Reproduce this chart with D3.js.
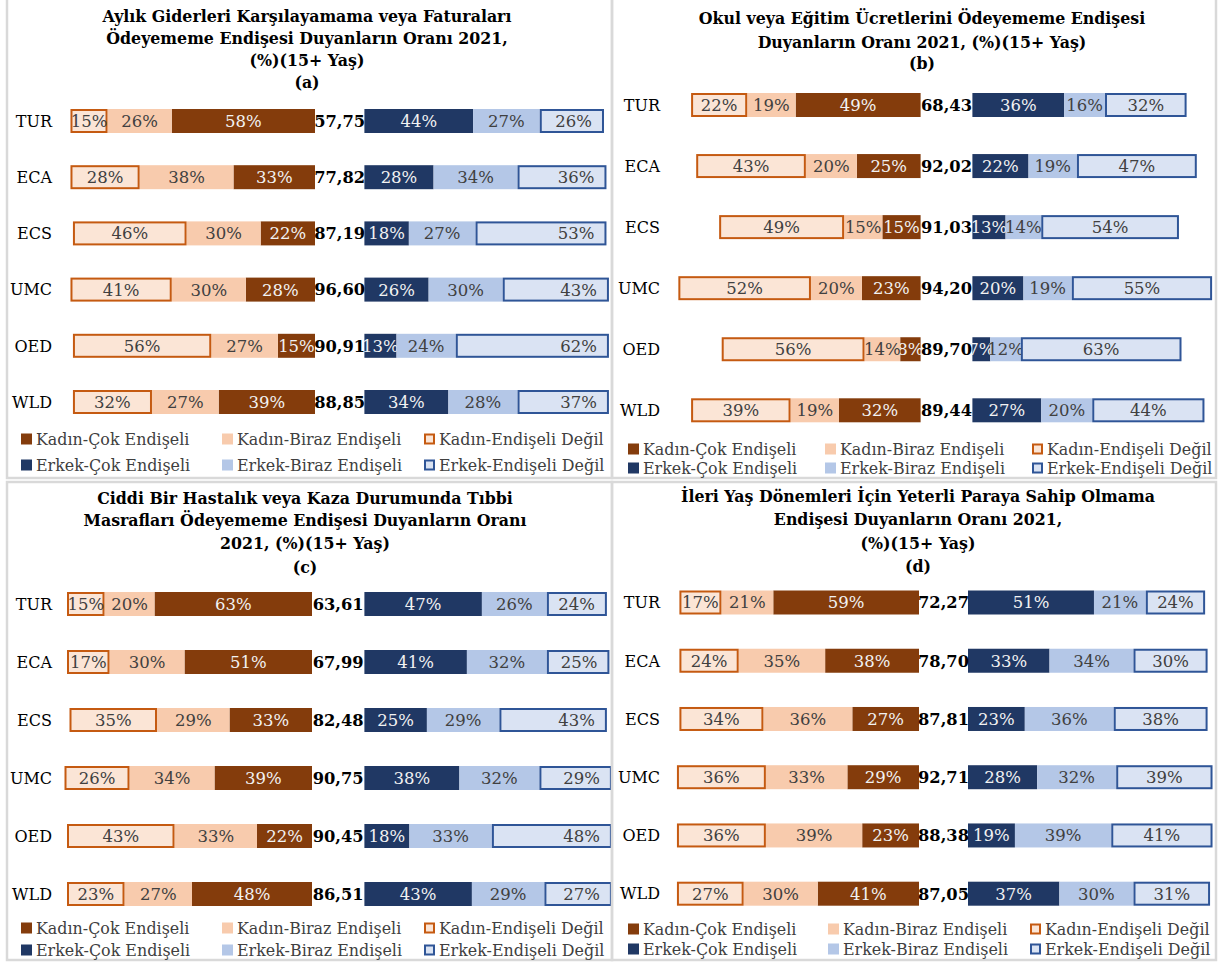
<!DOCTYPE html>
<html>
<head>
<meta charset="utf-8">
<script src="https://cdn.jsdelivr.net/npm/d3@7"></script>
<style>
  body { margin: 0; background: #fff; }
  svg { display: block; font-family: "DejaVu Serif", serif; }
</style>
</head>
<body>
<svg id="chart" width="1221" height="962"></svg>
<script>
// ---- data ----
const countries = ["TUR", "ECA", "ECS", "UMC", "OED", "WLD"];
const legendNames = [
  ["Kadın-Çok Endişeli", "Kadın-Biraz Endişeli", "Kadın-Endişeli Değil"],
  ["Erkek-Çok Endişeli", "Erkek-Biraz Endişeli", "Erkek-Endişeli Değil"]
];

// (a)
const titleA = ["Aylık Giderleri Karşılayamama veya Faturaları", "Ödeyememe Endişesi Duyanların Oranı 2021,", "(%)(15+ Yaş)", "(a)"];
const kadinCokA = [58, 33, 22, 28, 15, 39];
const kadinBirazA = [26, 38, 30, 30, 27, 27];
const kadinDegilA = [15, 28, 46, 41, 56, 32];
const oranA = [57.75, 77.82, 87.19, 96.60, 90.91, 88.85];
const erkekCokA = [44, 28, 18, 26, 13, 34];
const erkekBirazA = [27, 34, 27, 30, 24, 28];
const erkekDegilA = [26, 36, 53, 43, 62, 37];

// (b)
const titleB = ["Okul veya Eğitim Ücretlerini Ödeyememe Endişesi", "Duyanların Oranı 2021, (%)(15+ Yaş)", "(b)"];
const kadinCokB = [49, 25, 15, 23, 8, 32];
const kadinBirazB = [19, 20, 15, 20, 14, 19];
const kadinDegilB = [22, 43, 49, 52, 56, 39];
const oranB = [68.43, 92.02, 91.03, 94.20, 89.70, 89.44];
const erkekCokB = [36, 22, 13, 20, 7, 27];
const erkekBirazB = [16, 19, 14, 19, 12, 20];
const erkekDegilB = [32, 47, 54, 55, 63, 44];

// (c)
const titleC = ["Ciddi Bir Hastalık veya Kaza Durumunda Tıbbi", "Masrafları Ödeyememe Endişesi Duyanların Oranı", "2021, (%)(15+ Yaş)", "(c)"];
const kadinCokC = [63, 51, 33, 39, 22, 48];
const kadinBirazC = [20, 30, 29, 34, 33, 27];
const kadinDegilC = [15, 17, 35, 26, 43, 23];
const oranC = [63.61, 67.99, 82.48, 90.75, 90.45, 86.51];
const erkekCokC = [47, 41, 25, 38, 18, 43];
const erkekBirazC = [26, 32, 29, 32, 33, 29];
const erkekDegilC = [24, 25, 43, 29, 48, 27];

// (d)
const titleD = ["İleri Yaş Dönemleri İçin Yeterli Paraya Sahip Olmama", "Endişesi Duyanların Oranı 2021,", "(%)(15+ Yaş)", "(d)"];
const kadinCokD = [59, 38, 27, 29, 23, 41];
const kadinBirazD = [21, 35, 36, 33, 39, 30];
const kadinDegilD = [17, 24, 34, 36, 36, 27];
const oranD = [72.27, 78.70, 87.81, 92.71, 88.38, 87.05];
const erkekCokD = [51, 33, 23, 28, 19, 37];
const erkekBirazD = [21, 34, 36, 32, 39, 30];
const erkekDegilD = [24, 30, 38, 39, 41, 31];

// ---- styles ----
const kadinFill = ["#843C0C", "#F8CBAD", "#FBE5D6"];
const erkekFill = ["#203864", "#B4C7E7", "#DAE3F3"];
const kadinStroke = "#C55A11";
const erkekStroke = "#2F5597";
const lightText = "#F2F2F2";
const darkText = "#404040";

const trLocale = d3.formatLocale({ decimal: ",", thousands: ".", grouping: [3], currency: ["", "₺"] });
const fmtOran = trLocale.format(".2f");

function makeRows(kc, kb, kd, oran, ec, eb, ed) {
  return countries.map((c, i) => ({
    country: c,
    kCok: kc[i], kBiraz: kb[i], kDegil: kd[i],
    oran: oran[i],
    eCok: ec[i], eBiraz: eb[i], eDegil: ed[i]
  }));
}

const panels = [
  { x0: 0, y0: 0, title: titleA, titleX: 307, titleY: [16, 38, 60, 82],
    rowRange: [121, 402], wEnd: 315, mStart: 364.4, k: 2.47, labelRight: 52,
    legendY: [439, 465], legendX: [21, 222, 424], menEndLabel: true,
    frame: [7, -2, 605, 480],
    rows: makeRows(kadinCokA, kadinBirazA, kadinDegilA, oranA, erkekCokA, erkekBirazA, erkekDegilA) },
  { x0: 612, y0: 0, title: titleB, titleX: 310, titleY: [18, 42, 63],
    rowRange: [105, 410.3], wEnd: 308.6, mStart: 360.4, k: 2.55, labelRight: 48,
    legendY: [449, 468], legendX: [16, 213, 420], menEndLabel: false,
    frame: [0, -2, 604, 480],
    rows: makeRows(kadinCokB, kadinBirazB, kadinDegilB, oranB, erkekCokB, erkekBirazB, erkekDegilB) },
  { x0: 0, y0: 480, title: titleC, titleX: 305, titleY: [18, 40, 63, 87],
    rowRange: [124, 414], wEnd: 312, mStart: 364.4, k: 2.5, labelRight: 52,
    legendY: [448, 470], legendX: [21, 222, 424], menEndLabel: true,
    frame: [7, 2, 605, 478],
    rows: makeRows(kadinCokC, kadinBirazC, kadinDegilC, oranC, erkekCokC, erkekBirazC, erkekDegilC) },
  { x0: 612, y0: 480, title: titleD, titleX: 306, titleY: [16, 39, 63, 86],
    rowRange: [122.5, 413.7], wEnd: 307, mStart: 356, k: 2.47, labelRight: 48,
    legendY: [449, 469], legendX: [16, 216, 418], menEndLabel: false,
    frame: [0, 2, 604, 478],
    rows: makeRows(kadinCokD, kadinBirazD, kadinDegilD, oranD, erkekCokD, erkekBirazD, erkekDegilD) }
];

const svg = d3.select("#chart");
const barH = 24;

panels.forEach(p => drawPanel(p));

function drawPanel(p) {
  const g = svg.append("g").attr("transform", `translate(${p.x0},${p.y0})`);

  // frame
  g.append("rect")
    .attr("x", p.frame[0]).attr("y", p.frame[1])
    .attr("width", p.frame[2]).attr("height", p.frame[3])
    .attr("fill", "none").attr("stroke", "#D9D9D9").attr("stroke-width", 2.5);

  // title
  g.append("g").selectAll("text")
    .data(p.title)
    .join("text")
    .attr("x", p.titleX)
    .attr("y", (d, i) => p.titleY[i])
    .attr("dy", "0.36em")
    .attr("text-anchor", "middle")
    .attr("font-weight", "bold")
    .attr("font-size", 15.8)
    .attr("fill", "#000")
    .text(d => d);

  const y = d3.scalePoint().domain(countries).range(p.rowRange);
  const x = d3.scaleLinear().domain([0, 100]).range([0, 100 * p.k]);

  const kadinStack = d3.stack().keys(["kCok", "kBiraz", "kDegil"])(p.rows);
  const erkekStack = d3.stack().keys(["eCok", "eBiraz", "eDegil"])(p.rows);

  // women bars (going left from wEnd)
  kadinStack.forEach((layer, li) => {
    const isDegil = li === 2;
    const lg = g.append("g");
    lg.selectAll("rect")
      .data(layer)
      .join("rect")
      .attr("x", d => p.wEnd - x(d[1]) + (isDegil ? 1 : 0))
      .attr("y", d => y(d.data.country) - barH / 2 + (isDegil ? 1 : 0))
      .attr("width", d => x(d[1]) - x(d[0]) - (isDegil ? 2 : 0))
      .attr("height", barH - (isDegil ? 2 : 0))
      .attr("fill", kadinFill[li])
      .attr("stroke", isDegil ? kadinStroke : "none")
      .attr("stroke-width", 2);
    lg.selectAll("text")
      .data(layer)
      .join("text")
      .attr("x", d => p.wEnd - (x(d[0]) + x(d[1])) / 2)
      .attr("y", d => y(d.data.country))
      .attr("dy", "0.36em")
      .attr("text-anchor", "middle")
      .attr("font-size", 16.5)
      .attr("fill", li === 0 ? lightText : darkText)
      .text(d => d.data[layer.key] + "%");
  });

  // men bars (going right from mStart)
  erkekStack.forEach((layer, li) => {
    const isDegil = li === 2;
    const endLabel = isDegil && p.menEndLabel;
    const lg = g.append("g");
    lg.selectAll("rect")
      .data(layer)
      .join("rect")
      .attr("x", d => p.mStart + x(d[0]) + (isDegil ? 1 : 0))
      .attr("y", d => y(d.data.country) - barH / 2 + (isDegil ? 1 : 0))
      .attr("width", d => x(d[1]) - x(d[0]) - (isDegil ? 2 : 0))
      .attr("height", barH - (isDegil ? 2 : 0))
      .attr("fill", erkekFill[li])
      .attr("stroke", isDegil ? erkekStroke : "none")
      .attr("stroke-width", 2);
    lg.selectAll("text")
      .data(layer)
      .join("text")
      .attr("x", d => endLabel ? p.mStart + x(d[1]) - 12 : p.mStart + (x(d[0]) + x(d[1])) / 2)
      .attr("y", d => y(d.data.country))
      .attr("dy", "0.36em")
      .attr("text-anchor", endLabel ? "end" : "middle")
      .attr("font-size", 16.5)
      .attr("fill", li === 0 ? lightText : darkText)
      .text(d => d.data[layer.key] + "%");
  });

  // centre value
  g.append("g").selectAll("text")
    .data(p.rows)
    .join("text")
    .attr("x", (p.wEnd + p.mStart) / 2)
    .attr("y", d => y(d.country))
    .attr("dy", "0.36em")
    .attr("text-anchor", "middle")
    .attr("font-weight", "bold")
    .attr("font-size", 16.3)
    .attr("fill", "#000")
    .text(d => fmtOran(d.oran));

  // country labels
  g.append("g").selectAll("text")
    .data(countries)
    .join("text")
    .attr("x", p.labelRight)
    .attr("y", d => y(d))
    .attr("dy", "0.36em")
    .attr("text-anchor", "end")
    .attr("font-size", 16)
    .attr("fill", "#000")
    .text(d => d);

  // legend
  const fills = [kadinFill, erkekFill];
  const strokes = [kadinStroke, erkekStroke];
  legendNames.forEach((names, ri) => {
    names.forEach((name, ci) => {
      const lx = p.legendX[ci], ly = p.legendY[ri];
      const isDegil = ci === 2;
      g.append("rect")
        .attr("x", lx + (isDegil ? 1 : 0))
        .attr("y", ly - 5.5 + (isDegil ? 1 : 0))
        .attr("width", isDegil ? 9 : 11)
        .attr("height", isDegil ? 9 : 11)
        .attr("fill", fills[ri][ci])
        .attr("stroke", isDegil ? strokes[ri] : "none")
        .attr("stroke-width", 2);
      g.append("text")
        .attr("x", lx + 15)
        .attr("y", ly)
        .attr("dy", "0.36em")
        .attr("font-size", 15.9)
        .attr("fill", darkText)
        .text(name);
    });
  });
}
</script>
</body>
</html>
